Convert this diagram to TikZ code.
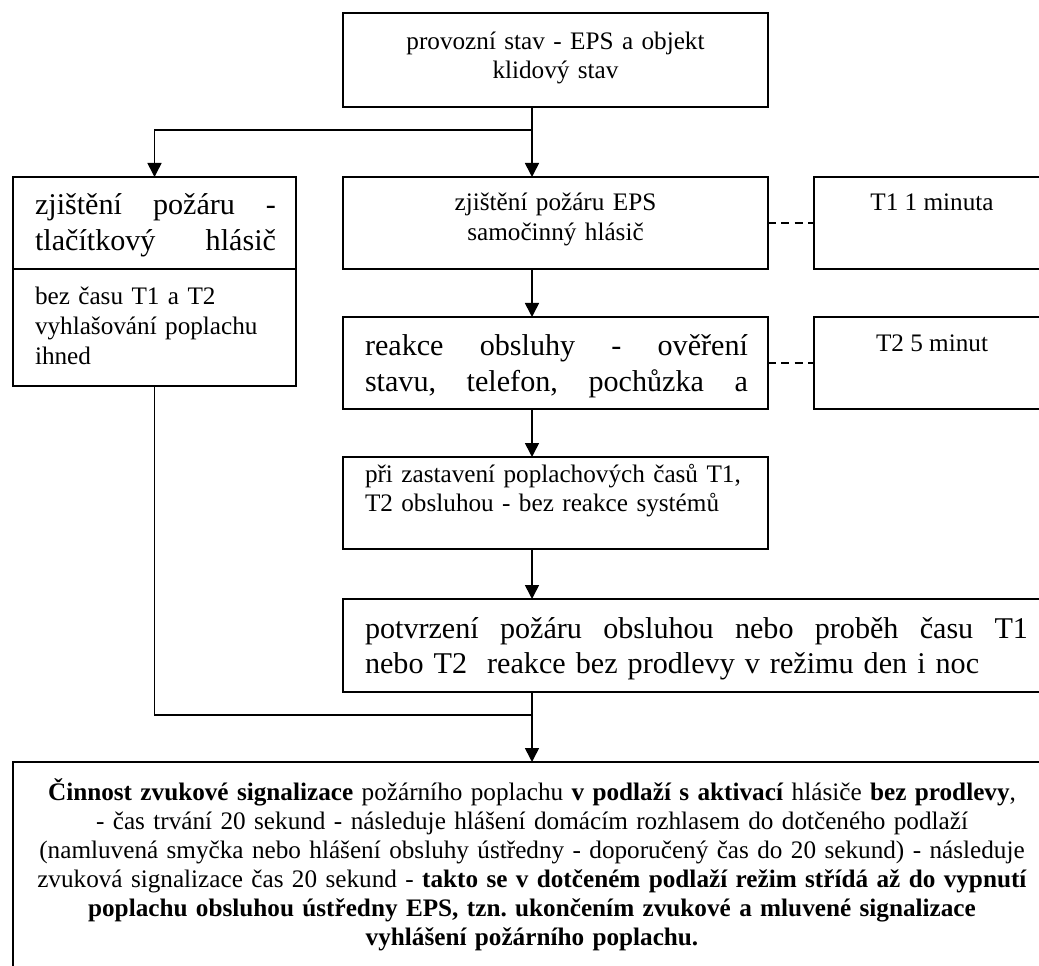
\documentclass[tikz,border=0pt]{standalone}
\usepackage{fontspec}
\setmainfont{Liberation Serif}
\usetikzlibrary{arrows.meta}
\frenchspacing
\newlength\pxu
\setlength\pxu{0.75pt}
\newcommand\smf[1]{\fontsize{18.9pt}{#1}\selectfont}
\newcommand\lgf[1]{\fontsize{22.6pt}{#1}\selectfont}
\newcommand\jl[2]{\hbox to #1\pxu{#2}}
\tikzset{
  box/.style={draw, line width=1.2pt, inner sep=0pt, outer sep=0pt},
  conn/.style={line width=1.2pt},
  arr/.style={conn, -{Triangle[length=10.5pt,width=10.5pt]}},
  dconn/.style={line width=1.2pt, dash pattern=on 6pt off 4pt},
  txt/.style={inner sep=0pt, outer sep=0pt}
}
\begin{document}
\begin{tikzpicture}[x=0.75pt,y=-0.75pt]
\useasboundingbox (0,0) rectangle (1039,966);
\clip (0,0) rectangle (1039,966);
% boxes
\node[box, minimum width=425*0.75pt, minimum height=94*0.75pt] (top) at (555.5,60) {};
\node[box, minimum width=283*0.75pt, minimum height=92*0.75pt] (lbA) at (154.5,223) {};
\node[box, minimum width=283*0.75pt, minimum height=117*0.75pt] (lbB) at (154.5,327.5) {};
\node[box, minimum width=425*0.75pt, minimum height=92*0.75pt] (b1) at (555.5,223) {};
\node[box, minimum width=236*0.75pt, minimum height=92*0.75pt] (t1) at (932,223) {};
\node[box, minimum width=425*0.75pt, minimum height=92*0.75pt] (b2) at (555.5,363) {};
\node[box, minimum width=236*0.75pt, minimum height=92*0.75pt] (t2) at (932,363) {};
\node[box, minimum width=425*0.75pt, minimum height=92*0.75pt] (b3) at (555.5,503) {};
\node[box, minimum width=707*0.75pt, minimum height=93*0.75pt] (b4) at (696.5,645.5) {};
\node[box, minimum width=1038*0.75pt, minimum height=238*0.75pt] (bot) at (532,881) {};
% texts
\node[txt, anchor=base, text width=410*0.75pt, align=center, font=\smf{21.3pt}] (topt) at (555.5,50)
  {provozní stav - EPS a objekt\\klidový stav};
\node[txt, anchor=base west, text width=241*0.75pt, align=left, font=\lgf{26.5pt}] (lbAt) at (35,215)
  {\jl{241}{zjištění\hfill požáru\hfill -}\\\jl{241}{tlačítkový\hfill hlásič}};
\node[txt, anchor=base west, text width=250*0.75pt, align=left, font=\smf{22.5pt}] (lbBt) at (35,305)
  {bez času T1 a T2\\vyhlašování poplachu\\ihned};
\node[txt, anchor=base, text width=410*0.75pt, align=center, font=\smf{22.5pt}] (b1t) at (555.5,211)
  {zjištění požáru EPS\\samočinný hlásič};
\node[txt, anchor=base, font=\smf{22.5pt}] (t1t) at (932,211) {T1 1 minuta};
\node[txt, anchor=base west, text width=383*0.75pt, align=left, font=\lgf{27pt}] (b2t) at (365,355)
  {\jl{383}{reakce\hfill obsluhy\hfill -\hfill ověření}\\\jl{383}{stavu,\hfill telefon,\hfill pochůzka\hfill a}};
\node[txt, anchor=base, font=\smf{22.5pt}] (t2t) at (932,351) {T2 5 minut};
\node[txt, anchor=base west, text width=400*0.75pt, align=left, font=\smf{21.75pt}] (b3t) at (365,482)
  {při zastavení poplachových časů T1,\\T2 obsluhou - bez reakce systémů};
\node[txt, anchor=base west, text width=663*0.75pt, align=left, font=\lgf{26.25pt}] (b4t) at (365,638)
  {\jl{663}{potvrzení\hfill požáru\hfill obsluhou\hfill nebo\hfill proběh\hfill času\hfill T1}\\nebo T2\ \ reakce bez prodlevy v režimu den i noc};
\node[txt, anchor=base, text width=1040*0.75pt, align=center, font=\smf{21.75pt}] (bott) at (532,800)
  {\textbf{Činnost zvukové signalizace} požárního poplachu \textbf{v podlaží s aktivací} hlásiče \textbf{bez prodlevy},\\
   - čas trvání 20 sekund - následuje hlášení domácím rozhlasem do dotčeného podlaží\\
   (namluvená smyčka nebo hlášení obsluhy ústředny - doporučený čas do 20 sekund) - následuje\\
   zvuková signalizace čas 20 sekund - \textbf{takto se v dotčeném podlaží režim střídá až do vypnutí}\\
   \textbf{poplachu obsluhou ústředny EPS, tzn. ukončením zvukové a mluvené signalizace}\\
   \textbf{vyhlášení požárního poplachu.}};
% connector helpers
\coordinate (mx) at (532,0);
\coordinate (j1) at (532,130);
\coordinate (j2) at (532,715);
% connectors
\draw[arr] (top.south -| mx) -- (b1.north -| mx);
\draw[arr] (j1) -| (lbA.north);
\draw[arr] (b1.south -| mx) -- (b2.north -| mx);
\draw[arr] (b2.south -| mx) -- (b3.north -| mx);
\draw[arr] (b3.south -| mx) -- (b4.north -| mx);
\draw[arr] (b4.south -| mx) -- (bot.north -| mx);
\draw[conn] (lbB.south) |- (j2);
\draw[dconn] (b1.east) -- (t1.west);
\draw[dconn] (b2.east) -- (t2.west);
\end{tikzpicture}
\end{document}
